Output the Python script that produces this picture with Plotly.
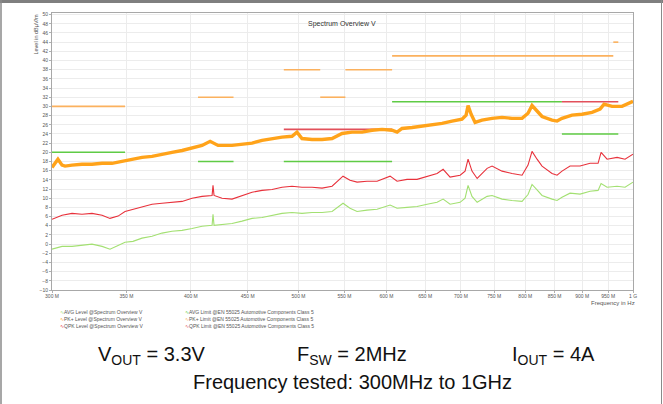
import plotly.graph_objects as go

# ---------------- data (frequency in MHz, level in dBµV/m) ----------------
pk_freq = [300.0, 303.7, 306.3, 308.2, 312.7, 319.2, 325.9, 332.8, 339.7, 346.8, 354.1, 361.5,
           369.1, 376.8, 384.7, 392.8, 401.0, 409.4, 416.3, 423.2, 435.6, 444.8, 454.1, 463.6,
           473.3, 483.2, 493.3, 498.4, 503.6, 514.2, 525.0, 536.0, 547.2, 558.6, 570.3, 582.3,
           594.5, 606.9, 613.3, 619.6, 632.6, 645.8, 659.4, 673.2, 687.3, 701.6, 707.6, 710.5,
           715.0, 720.9, 731.3, 746.7, 762.3, 778.3, 794.6, 804.5, 811.2, 821.4, 828.2, 845.5,
           854.4, 863.2, 881.3, 899.8, 918.6, 934.0, 941.8, 957.5, 977.5, 1000.0]
pk_level = [16.7, 18.5, 17.2, 17.0, 17.2, 17.4, 17.4, 17.6, 17.6, 18.0, 18.5, 18.9,
            19.1, 19.6, 20.0, 20.4, 20.9, 21.5, 22.4, 21.5, 21.5, 21.7, 22.0, 22.6,
            23.0, 23.3, 23.5, 24.4, 23.0, 22.8, 22.8, 23.0, 24.1, 24.4, 24.4, 24.8,
            25.0, 24.8, 24.4, 25.2, 25.4, 25.7, 25.9, 26.3, 26.8, 27.2, 28.1, 30.2,
            28.3, 26.5, 27.0, 27.4, 27.6, 27.4, 27.4, 28.5, 30.2, 28.7, 27.8, 27.0,
            26.8, 27.4, 28.1, 28.3, 28.7, 29.4, 30.5, 30.0, 30.0, 31.1]

qpk_freq = [300.0, 306.3, 312.7, 319.2, 325.9, 332.8, 338.3, 344.0, 349.0, 354.8, 361.5, 369.1,
            376.8, 384.7, 392.8, 401.0, 409.4, 418.0, 418.8, 419.7, 426.7, 435.6, 444.8, 454.1,
            463.6, 473.3, 483.2, 493.3, 503.6, 514.2, 525.0, 536.0, 548.3, 556.3, 564.5, 576.3,
            588.4, 604.5, 613.3, 626.1, 639.2, 652.7, 666.3, 674.7, 684.5, 698.9, 706.1, 710.5,
            716.3, 724.0, 739.1, 746.7, 762.3, 778.3, 794.6, 804.5, 811.2, 819.7, 828.2, 845.5,
            854.4, 863.2, 877.7, 896.1, 914.9, 930.2, 936.0, 947.7, 967.5, 983.7, 1000.0]
qpk_level = [5.4, 6.3, 6.7, 6.5, 6.7, 6.3, 5.6, 6.1, 7.1, 7.6, 8.0, 8.7,
             8.9, 9.1, 9.3, 10.0, 10.4, 10.6, 12.8, 10.6, 10.0, 9.8, 10.6, 11.3,
             11.7, 11.9, 12.4, 12.6, 12.4, 12.4, 12.2, 12.6, 14.8, 13.9, 13.5, 13.7,
             13.7, 14.8, 13.7, 14.1, 14.1, 14.8, 15.4, 16.3, 14.6, 15.0, 15.9, 18.5,
             15.9, 14.3, 16.5, 17.0, 15.9, 15.4, 15.0, 17.2, 20.2, 18.5, 17.0, 15.4,
             15.0, 15.9, 17.0, 17.0, 17.6, 17.6, 20.0, 18.5, 18.9, 18.5, 19.6]

avg_freq = qpk_freq
avg_level = [-1.1, -0.5, -0.5, -0.3, 0.0, -0.5, -1.1, -0.3, 0.4, 0.6, 1.3, 1.7,
             2.4, 2.8, 3.0, 3.4, 3.9, 4.1, 6.5, 4.1, 4.3, 4.5, 5.0, 5.6,
             5.8, 6.3, 6.7, 6.9, 6.7, 6.9, 6.9, 7.1, 8.9, 7.8, 7.1, 7.4,
             7.6, 8.5, 7.8, 8.0, 8.2, 8.7, 9.1, 9.8, 8.7, 9.1, 10.0, 12.8,
             10.4, 9.1, 10.4, 10.6, 9.8, 9.5, 9.3, 10.8, 13.0, 11.8, 10.6, 9.8,
             9.5, 10.2, 11.1, 10.9, 11.5, 11.7, 13.2, 12.4, 12.6, 12.4, 13.5]

# limit lines: start MHz, stop MHz, level
pk_limit_start = [300, 406, 485, 523, 551, 607, 960]
pk_limit_stop = [349, 437, 523, 551, 607, 960, 970]
pk_limit_level = [30, 32, 38, 32, 38, 41, 44]

avg_limit_start = [300, 406, 485, 607, 863]
avg_limit_stop = [349, 437, 607, 863, 970]
avg_limit_level = [20, 18, 18, 31, 24]

qpk_limit_start = [485, 863]
qpk_limit_stop = [607, 970]
qpk_limit_level = [25, 31]

x_tick_vals = [300, 350, 400, 450, 500, 550, 600, 650, 700, 750, 800, 850, 900, 950, 1000]
x_tick_text = ["300 M", "350 M", "400 M", "450 M", "500 M", "550 M", "600 M", "650 M",
               "700 M", "750 M", "800 M", "850 M", "900 M", "950 M", "1 G"]
y_tick_vals = list(range(-10, 51, 2))

# ---------------- styling ----------------
C_PK = "#FFA31A"
C_PK_LIM = "#FBB15E"
C_QPK = "#E8313B"
C_QPK_LIM = "#E2505B"
C_AVG = "#A3E072"
C_AVG_LIM = "#5FCB45"

W, H = 663, 404
L, R, T, B = 52, 633, 13, 290  # plot area in pixels


def px_x(p):
    return (p - L) / (R - L)


def px_y(p):
    return (B - p) / (B - T)


def segments(starts, stops, levels):
    xs, ys = [], []
    for a, b, v in zip(starts, stops, levels):
        xs += [a, b, None]
        ys += [v, v, None]
    return xs, ys


fig = go.Figure()

for (st, sp, lv, col) in [
    (avg_limit_start, avg_limit_stop, avg_limit_level, C_AVG_LIM),
    (pk_limit_start, pk_limit_stop, pk_limit_level, C_PK_LIM),
    (qpk_limit_start, qpk_limit_stop, qpk_limit_level, C_QPK_LIM),
]:
    xs, ys = segments(st, sp, lv)
    fig.add_trace(go.Scatter(x=xs, y=ys, mode="lines", line=dict(color=col, width=1.6),
                             showlegend=False, hoverinfo="skip"))

fig.add_trace(go.Scatter(x=avg_freq, y=avg_level, mode="lines",
                         line=dict(color=C_AVG, width=1.1), showlegend=False))
fig.add_trace(go.Scatter(x=qpk_freq, y=qpk_level, mode="lines",
                         line=dict(color=C_QPK, width=1.1), showlegend=False))
fig.add_trace(go.Scatter(x=pk_freq, y=pk_level, mode="lines",
                         line=dict(color=C_PK, width=3.4), showlegend=False))

font_small = dict(family="Liberation Sans, Arial, sans-serif", size=5, color="#555555")

fig.update_xaxes(type="log", range=[2.4771, 3.0], tickvals=x_tick_vals, ticktext=x_tick_text,
                 tickfont=font_small, showgrid=True, gridcolor="#ECECEC", gridwidth=1,
                 showline=True, linecolor="#A8A8A8", linewidth=1, mirror=True,
                 ticks="outside", ticklen=2, tickcolor="#B0B0B0", zeroline=False,
                 automargin=False, ticklabelstandoff=-1)
fig.update_yaxes(range=[-10, 50.35], tickvals=y_tick_vals, tickfont=font_small,
                 showgrid=True, gridcolor="#ECECEC", gridwidth=1,
                 showline=True, linecolor="#A8A8A8", linewidth=1, mirror=True,
                 ticks="outside", ticklen=2, tickcolor="#B0B0B0", zeroline=False,
                 automargin=False)

ann = []
ann.append(dict(text="Spectrum Overview V", x=px_x(342), y=px_y(18), xref="paper", yref="paper",
                showarrow=False, font=dict(family="Liberation Sans, Arial", size=7, color="#333333")))
ann.append(dict(text="Level in dBµV/m", x=px_x(36), y=px_y(12), xref="paper", yref="paper",
                textangle=-90, xanchor="center", yanchor="top", showarrow=False,
                font=dict(family="Liberation Sans, Arial", size=5.5, color="#555555")))
ann.append(dict(text="Frequency in Hz", x=px_x(637), y=px_y(298), xref="paper", yref="paper",
                xanchor="right", yanchor="top", showarrow=False,
                font=dict(family="Liberation Sans, Arial", size=6, color="#555555")))

legend_rows = [
    (58, 312, C_AVG, "AVG Level @Spectrum Overview V"),
    (58, 319, C_PK, "PK+ Level @Spectrum Overview V"),
    (58, 326, C_QPK, "QPK Level @Spectrum Overview V"),
    (183, 312, C_AVG_LIM, "AVG Limit @EN 55025 Automotive Components Class 5"),
    (183, 319, C_PK_LIM, "PK+ Limit @EN 55025 Automotive Components Class 5"),
    (183, 326, C_QPK_LIM, "QPK Limit @EN 55025 Automotive Components Class 5"),
]
for lx, ly, col, txt in legend_rows:
    ann.append(dict(text=f"<span style='color:{col}'>∿</span>{txt}", x=px_x(lx), y=px_y(ly),
                    xref="paper", yref="paper", xanchor="left", yanchor="middle", showarrow=False,
                    font=dict(family="Liberation Sans, Arial", size=5, color="#555555")))

big = dict(family="Liberation Sans, Arial, sans-serif", size=20, color="#111111")
for cx, txt in [(152, "V<sub>OUT</sub> = 3.3V"), (352, "F<sub>SW</sub> = 2MHz"), (553, "I<sub>OUT</sub> = 4A")]:
    ann.append(dict(text=txt, x=px_x(cx), y=px_y(370), xref="paper", yref="paper",
                    xanchor="center", yanchor="bottom", showarrow=False, font=big))
ann.append(dict(text="Frequency tested: 300MHz to 1GHz", x=px_x(352), y=px_y(395), xref="paper",
                yref="paper", xanchor="center", yanchor="bottom", showarrow=False, font=big))

shapes = [
    dict(type="rect", xref="paper", yref="paper", x0=px_x(0), x1=px_x(W), y0=px_y(0), y1=px_y(3),
         fillcolor="#7F7F7F", line=dict(width=0), layer="above"),
    dict(type="line", xref="paper", yref="paper", x0=px_x(1), x1=px_x(1), y0=px_y(0), y1=px_y(H),
         line=dict(color="#8A8A8A", width=1.5)),
    dict(type="line", xref="paper", yref="paper", x0=px_x(661.5), x1=px_x(661.5), y0=px_y(0),
         y1=px_y(H), line=dict(color="#8A8A8A", width=1)),
]

fig.update_layout(width=W, height=H, margin=dict(l=L, r=W - R, t=T, b=H - B, pad=0),
                  paper_bgcolor="white", plot_bgcolor="white", annotations=ann, shapes=shapes,
                  showlegend=False)

fig.write_html("out.html", config={"displayModeBar": False},
               post_script="document.body.style.margin='0';document.body.style.overflow='hidden';")
